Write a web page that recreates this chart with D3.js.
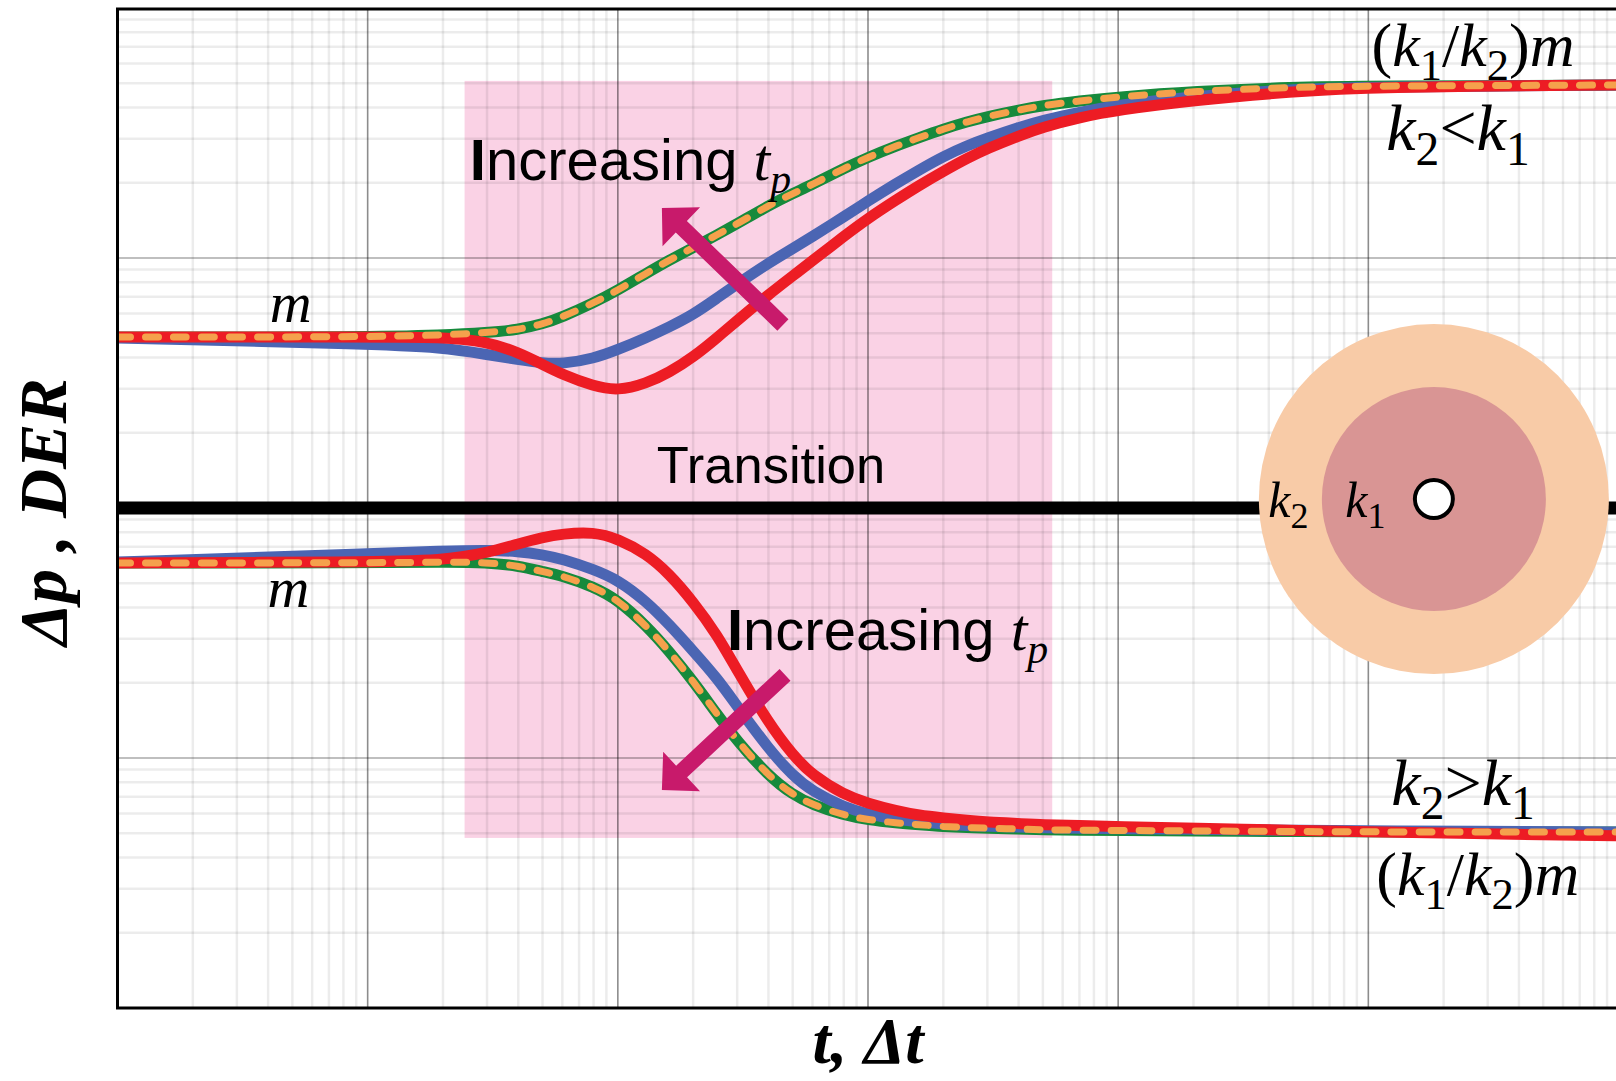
<!DOCTYPE html>
<html><head><meta charset="utf-8">
<script src="https://cdn.jsdelivr.net/npm/d3@7"></script>
<style>body{margin:0;background:#fff} svg{display:block}</style>
</head><body><svg id="c" width="1616" height="1081"></svg>
<script>
// ---- data ----
const tValues = [0.001, 0.01, 0.02, 0.03, 0.04, 0.05, 0.06, 0.08, 0.1, 0.13, 0.16, 0.2, 0.25, 0.3, 0.4, 0.5, 0.6, 0.8, 1, 1.3, 1.6, 2, 2.5, 3, 4, 5, 7, 10, 20, 50, 100, 1000];
// upper branch (k2 < k1)
const upperGreen = [4.83, 4.83, 4.92, 5.03, 5.17, 5.44, 5.81, 6.61, 7.43, 8.69, 9.79, 11.0, 12.4, 13.7, 16.2, 18.1, 19.7, 22.8, 25.3, 28.1, 30.3, 32.8, 35.1, 36.8, 39.1, 40.7, 42.5, 44.1, 46.4, 48.3, 48.7, 49.2];
const upperBlue  = [4.79, 4.53, 4.39, 4.11, 3.92, 3.80, 3.77, 3.96, 4.30, 4.80, 5.29, 5.93, 6.93, 7.87, 9.55, 10.9, 12.2, 14.6, 16.9, 19.9, 22.5, 25.5, 28.2, 30.2, 33.3, 35.6, 38.3, 40.9, 44.4, 47.3, 48.3, 49.2];
const upperRed   = [4.83, 4.83, 4.83, 4.63, 4.19, 3.75, 3.42, 3.07, 2.94, 3.15, 3.48, 4.01, 4.81, 5.63, 7.13, 8.48, 9.75, 12.2, 14.4, 17.1, 19.5, 22.2, 25.1, 27.4, 30.8, 33.4, 36.5, 39.1, 42.7, 46.3, 48.3, 49.2];
// lower branch (k2 > k1)
const lowerGreen = [0.603, 0.603, 0.608, 0.606, 0.587, 0.557, 0.535, 0.484, 0.429, 0.338, 0.268, 0.203, 0.149, 0.117, 0.0848, 0.0713, 0.065, 0.0591, 0.0566, 0.055, 0.0541, 0.0532, 0.0527, 0.0524, 0.052, 0.0516, 0.0514, 0.0513, 0.0511, 0.0508, 0.0506, 0.0506];
const lowerBlue  = [0.608, 0.655, 0.673, 0.679, 0.671, 0.651, 0.625, 0.568, 0.516, 0.423, 0.343, 0.268, 0.208, 0.161, 0.109, 0.085, 0.0735, 0.0636, 0.0595, 0.0568, 0.0556, 0.0543, 0.0537, 0.0534, 0.0529, 0.0526, 0.0523, 0.0522, 0.0519, 0.0514, 0.0511, 0.0506];
const lowerRed   = [0.603, 0.608, 0.617, 0.662, 0.719, 0.763, 0.788, 0.802, 0.754, 0.656, 0.547, 0.422, 0.310, 0.224, 0.138, 0.1028, 0.0852, 0.0714, 0.0658, 0.0615, 0.059, 0.0576, 0.0563, 0.0554, 0.0547, 0.0541, 0.0537, 0.0532, 0.0524, 0.0514, 0.0506, 0.0488];
// transition band, arrows, schematic (data units)
const bandT = [0.0244, 5.45];
const bandV = [0.0479, 51.1];
const arrows = [ {from:[0.457, 5.40], to:[0.150, 15.85]}, {from:[0.466, 0.215], to:[0.150, 0.0745]} ];
const wellCenter = [182.8, 1.086];
const dividerValue = 1;

// ---- scales ----
const x = d3.scaleLog().domain([1e-3, 1e3]).range([117.5, 1618.5]);
const y = d3.scaleLog().domain([1e-2, 1e2]).range([1008, 8]);
const svg = d3.select('#c');
const defs = svg.append('defs');
defs.append('clipPath').attr('id','plot').append('rect')
  .attr('x',117.5).attr('y',8).attr('width',1501).attr('height',1000);

const plot = svg.append('g').attr('clip-path','url(#plot)');

// pink transition band
plot.append('rect')
  .attr('x', x(bandT[0])).attr('width', x(bandT[1]) - x(bandT[0]))
  .attr('y', y(bandV[1])).attr('height', y(bandV[0]) - y(bandV[1]))
  .attr('fill', '#fad2e5');

// grid
const xMinor = [], xMajor = [], yMinor = [], yMajor = [];
for (let e = -3; e < 3; e++) for (let k = 1; k <= 9; k++) (k===1 ? xMajor : xMinor).push(k*Math.pow(10,e));
for (let e = -2; e < 2; e++) for (let k = 1; k <= 9; k++) (k===1 ? yMajor : yMinor).push(k*Math.pow(10,e));
plot.append('g').selectAll('line').data(xMinor).join('line')
  .attr('x1',d=>x(d)).attr('x2',d=>x(d)).attr('y1',8).attr('y2',1008)
  .attr('stroke','rgba(0,0,0,0.075)').attr('stroke-width',2.5);
plot.append('g').selectAll('line').data(yMinor).join('line')
  .attr('y1',d=>y(d)).attr('y2',d=>y(d)).attr('x1',117).attr('x2',1620)
  .attr('stroke','rgba(0,0,0,0.075)').attr('stroke-width',2.5);
plot.append('g').selectAll('line').data(yMajor).join('line')
  .attr('y1',d=>y(d)).attr('y2',d=>y(d)).attr('x1',117).attr('x2',1620)
  .attr('stroke','rgba(0,0,0,0.25)').attr('stroke-width',2.2);
plot.append('g').selectAll('line').data(xMajor).join('line')
  .attr('x1',d=>x(d)).attr('x2',d=>x(d)).attr('y1',8).attr('y2',1008)
  .attr('stroke','rgba(0,0,0,0.45)').attr('stroke-width',1.6);

// divider
plot.append('line').attr('x1',117).attr('x2',1620)
  .attr('y1',y(dividerValue)).attr('y2',y(dividerValue))
  .attr('stroke','#000').attr('stroke-width',13);

// curves
const line = d3.line().x(d=>x(d[0])).y(d=>y(d[1])).curve(d3.curveBasis);
const pts = arr => tValues.map((t,i)=>[t, arr[i]]);
const series = [
  {data: upperGreen, color:'#168a3c'}, {data: lowerGreen, color:'#168a3c'},
  {data: upperBlue, color:'#4b65b3'}, {data: lowerBlue, color:'#4b65b3'},
  {data: upperRed, color:'#ed1c24'}, {data: lowerRed, color:'#ed1c24'}
];
series.forEach(s => plot.append('path').attr('d', line(pts(s.data)))
  .attr('fill','none').attr('stroke', s.color).attr('stroke-width', 11).attr('stroke-linejoin','round'));
[upperGreen, lowerGreen].forEach(arr => plot.append('path').attr('d', line(pts(arr)))
  .attr('fill','none').attr('stroke','#f5a14c').attr('stroke-width',7)
  .attr('stroke-dasharray','13 15').attr('stroke-linecap','round'));

// arrows
arrows.forEach(a => {
  const p0 = [x(a.from[0]), y(a.from[1])], p1 = [x(a.to[0]), y(a.to[1])];
  const dx = p0[0]-p1[0], dy = p0[1]-p1[1], L = Math.hypot(dx,dy);
  const d = [dx/L, dy/L], n = [-d[1], d[0]];
  const hl = 27, hw = 27, sw = 8;
  const b = [p1[0]+d[0]*hl, p1[1]+d[1]*hl];
  const P = (p, s) => [p[0]+n[0]*s, p[1]+n[1]*s];
  const poly = [P(p0,sw), P(b,sw), P(b,hw), p1, P(b,-hw), P(b,-sw), P(p0,-sw)];
  plot.append('polygon').attr('points', poly.map(p=>p.join(',')).join(' ')).attr('fill','#c81a6b');
});

// schematic of radial composite reservoir
const cx = x(wellCenter[0]), cy = y(wellCenter[1]);
plot.append('circle').attr('cx',cx).attr('cy',cy).attr('r',175).attr('fill','#f8cba7');
plot.append('circle').attr('cx',cx).attr('cy',cy).attr('r',112).attr('fill','#d99594');
plot.append('circle').attr('cx',cx).attr('cy',cy).attr('r',19).attr('fill','#fff').attr('stroke','#000').attr('stroke-width',4);

// text helpers
const serif = "'Liberation Serif','Times New Roman',serif";
const sans = "'Liberation Sans',Arial,sans-serif";
function rich(px, py, size, parts, anchor) {
  const t = svg.append('text').attr('x',px).attr('y',py).attr('font-family',serif)
    .attr('font-size',size).attr('text-anchor',anchor||'start').attr('fill','#000');
  let shift = 0;
  parts.forEach(p => {
    const ts = t.append('tspan').text(p.s);
    if (p.i) ts.attr('font-style','italic');
    if (p.f) ts.attr('font-family', p.f);
    if (p.w) ts.attr('font-weight', p.w);
    const want = p.sub ? size*0.22 : 0;
    if (want !== shift) { ts.attr('dy', want - shift); shift = want; }
    if (p.sub) ts.attr('font-size', size*0.72);
    if (p.fs) ts.attr('font-size', p.fs);
  });
  return t;
}
const ratioLabel = [{s:'('},{s:'k',i:1},{s:'1',sub:1},{s:'/'},{s:'k',i:1},{s:'2',sub:1},{s:')'},{s:'m',i:1}];
rich(x(103), y(58.6), 62, ratioLabel);
rich(x(118), y(27.0), 66, [{s:'k',i:1},{s:'2',sub:1},{s:'<'},{s:'k',i:1},{s:'1',sub:1}]);
rich(x(123.6), y(0.0649), 66, [{s:'k',i:1},{s:'2',sub:1},{s:'>'},{s:'k',i:1},{s:'1',sub:1}]);
rich(x(107.6), y(0.0283), 62, ratioLabel);
rich(x(0.00406), y(5.55), 58, [{s:'m',i:1}]);
rich(x(0.00398), y(0.402), 58, [{s:'m',i:1}]);
rich(x(39.8), y(0.92), 50, [{s:'k',i:1},{s:'2',sub:1}]);
rich(x(80.9), y(0.92), 50, [{s:'k',i:1},{s:'1',sub:1}]);

const incParts = [{s:'I',f:sans,w:'bold'},{s:'ncreasing ',f:sans},{s:'t',i:1,fs:60},{s:'p',i:1,sub:1}];
rich(x(0.0256), y(20.5), 58, incParts);
rich(x(0.273), y(0.270), 58, incParts);
svg.append('text').attr('x',x(0.143)).attr('y',y(1.26)).attr('font-family',sans)
  .attr('font-size',52.5).text('Transition');

// axis titles
svg.append('text').attr('transform','translate(66,512) rotate(-90)')
  .attr('text-anchor','middle').attr('font-family',serif).attr('font-size',68)
  .attr('font-weight','bold').attr('font-style','italic').text('Δp , DER');
svg.append('text').attr('x',x(1)).attr('y',1063)
  .attr('text-anchor','middle').attr('font-family',serif).attr('font-size',66)
  .attr('font-weight','bold').attr('font-style','italic').text('t, Δt');

// frame
svg.append('rect').attr('x',117.5).attr('y',9).attr('width',1501).attr('height',999)
  .attr('fill','none').attr('stroke','#000').attr('stroke-width',3);
</script></body></html>
